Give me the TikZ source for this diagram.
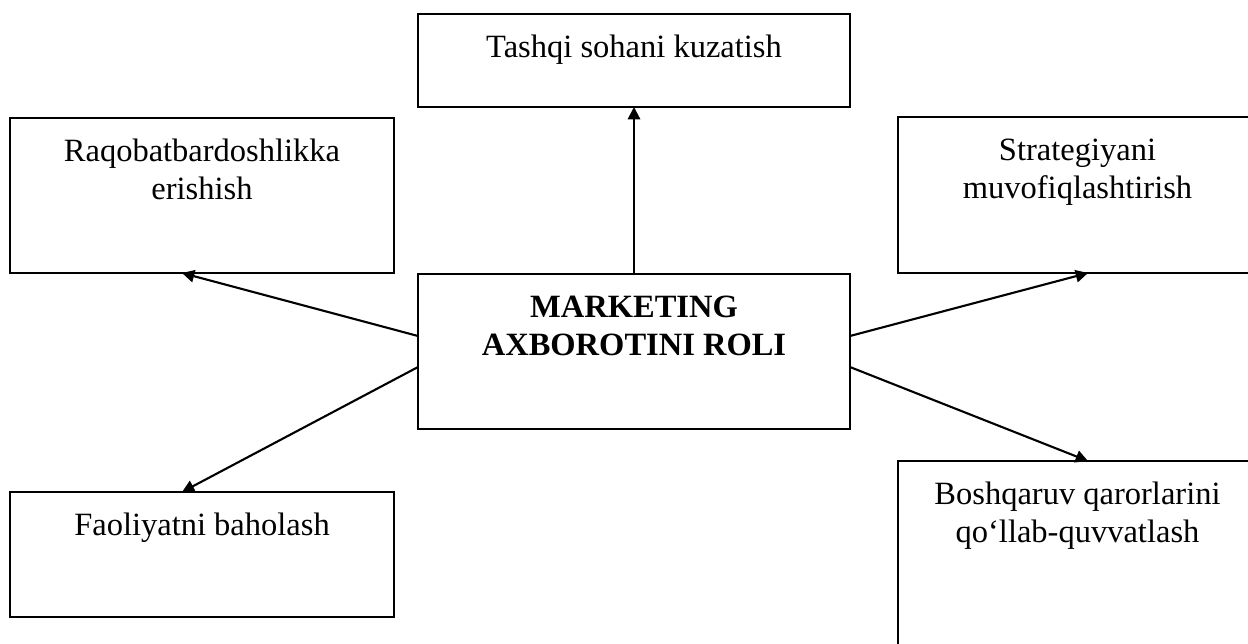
\documentclass[tikz,border=0pt]{standalone}
\usepackage{fontspec}
\setmainfont{Liberation Serif}
\usetikzlibrary{arrows.meta}

\tikzset{
  box/.style={draw, line width=1.2pt, inner sep=0pt, outer sep=0pt},
  lbl/.style={anchor=base, align=center, inner sep=0pt, font=\fontsize{18.5}{21.5}\selectfont},
  link/.style={-{Triangle[length=7pt,width=7pt]}, line width=1.2pt}
}

\begin{document}
\begin{tikzpicture}[x=0.02cm, y=-0.02cm]
\useasboundingbox (0,0) rectangle (1248,643);
\clip (0,0) rectangle (1248,643);

% boxes
\node[box, minimum width=8.64cm, minimum height=1.86cm] (tbox) at (634,60.5) {};
\node[box, minimum width=7.68cm, minimum height=3.1cm] (rbox) at (202,195.5) {};
\node[box, minimum width=7.18cm, minimum height=3.12cm] (sbox) at (1077.5,195) {};
\node[box, minimum width=8.64cm, minimum height=3.1cm] (mbox) at (634,351.5) {};
\node[box, minimum width=7.68cm, minimum height=2.5cm] (fbox) at (202,554.5) {};
\node[box, minimum width=7.18cm, minimum height=4.78cm] (bbox) at (1077.5,580.5) {};

% labels (base = last line)
\node[lbl] (ttext) at ([yshift=-0.86cm]tbox.north) {Tashqi sohani kuzatish};
\node[lbl] (rtext) at ([yshift=-1.62cm]rbox.north) {Raqobatbardoshlikka\\erishish};
\node[lbl] (stext) at ([yshift=-1.62cm]sbox.north) {Strategiyani\\muvofiqlashtirish};
\node[lbl, font=\fontsize{18.5}{21.5}\selectfont\bfseries] (mtext) at ([yshift=-1.62cm]mbox.north) {MARKETING\\AXBOROTINI ROLI};
\node[lbl] (ftext) at ([yshift=-0.86cm]fbox.north) {Faoliyatni baholash};
\node[lbl] (btext) at ([yshift=-1.62cm]bbox.north) {Boshqaruv qarorlarini\\qo‘llab-quvvatlash};

% connectors
\draw[link] (mbox.north) -- (tbox.south);
\draw[link] ([yshift=0.31cm]mbox.west) -- ([xshift=3.44cm]rbox.south west);
\draw[link] ([yshift=-0.31cm]mbox.west) -- ([xshift=3.44cm]fbox.north west);
\draw[link] ([yshift=0.31cm]mbox.east) -- ([xshift=3.8cm]sbox.south west);
\draw[link] ([yshift=-0.31cm]mbox.east) -- ([xshift=3.8cm]bbox.north west);

\end{tikzpicture}
\end{document}
